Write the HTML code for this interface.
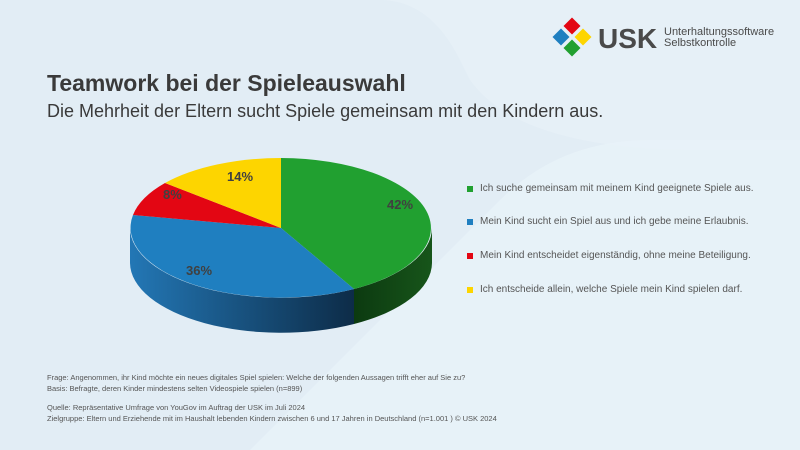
<!DOCTYPE html>
<html><head><meta charset="utf-8"><style>
html,body{margin:0;padding:0}
body{width:800px;height:450px;overflow:hidden;background:#e2edf5;font-family:"Liberation Sans",sans-serif;position:relative}
.t{position:absolute;white-space:nowrap}
</style></head><body>
<svg width="800" height="450" style="position:absolute;left:0;top:0">
<defs>
<linearGradient id="bs" x1="0" x2="1"><stop offset="0" stop-color="#2377b5"/><stop offset="1" stop-color="#0d2c48"/></linearGradient>
<linearGradient id="gs" x1="0" x2="1"><stop offset="0" stop-color="#0c3a10"/><stop offset="1" stop-color="#17551a"/></linearGradient>
</defs>
<path d="M0,0 H380 Q430,0 460,60 L470,80 Q520,150 700,150 L800,150 V0 Z" fill="#e8f1f8" opacity="0.7"/>
<path d="M250,450 L500,200 Q560,140 650,140 H800 V450 Z" fill="#e9f2f9" opacity="0.8"/>
<path d="M432,228 A151,70 0 0 1 354,289 L354,324 A151,70 0 0 0 432,263 Z" fill="url(#gs)"/>
<path d="M354,289 A151,70 0 0 1 130,228 L130,263 A151,70 0 0 0 354,324 Z" fill="url(#bs)"/>
<path d="M281,228 L281,158 A151,70 0 0 1 354,289 Z" fill="#21a030"/>
<path d="M281,228 L354,289 A151,70 0 0 1 133,215 Z" fill="#1f7fc0"/>
<path d="M281,228 L133,215 A151,70 0 0 1 165,183 Z" fill="#e30613"/>
<path d="M281,228 L165,183 A151,70 0 0 1 281,158 Z" fill="#fdd500"/>
<g font-family="Liberation Sans,sans-serif" font-weight="bold" font-size="13" fill="#404040">
<text x="387" y="209">42%</text><text x="186" y="275">36%</text><text x="163" y="199">8%</text><text x="227" y="181">14%</text>
</g>
<g transform="translate(572,37)">
<rect x="-6" y="-6" width="12" height="12" fill="#e30613" transform="translate(0,-11) rotate(45)"/>
<rect x="-6" y="-6" width="12" height="12" fill="#1f7fc0" transform="translate(-11,0) rotate(45)"/>
<rect x="-6" y="-6" width="12" height="12" fill="#fdd500" transform="translate(11,0) rotate(45)"/>
<rect x="-6" y="-6" width="12" height="12" fill="#21a030" transform="translate(0,11) rotate(45)"/>
</g>
<rect x="467" y="186" width="6" height="6" fill="#21a030"/>
<rect x="467" y="219" width="6" height="6" fill="#1f7fc0"/>
<rect x="467" y="253" width="6" height="6" fill="#e30613"/>
<rect x="467" y="287" width="6" height="6" fill="#fdd500"/>
</svg>
<div class="t" style="left:598px;top:23px;font-size:28px;font-weight:bold;color:#4a4a4a">USK</div>
<div class="t" style="left:664px;top:27px;font-size:11px;line-height:11px;color:#4a4a4a">Unterhaltungssoftware<br>Selbstkontrolle</div>
<div class="t" style="left:47px;top:70px;font-size:23px;font-weight:bold;color:#3a3a3a">Teamwork bei der Spieleauswahl</div>
<div class="t" style="left:47px;top:101px;font-size:18px;color:#3a3a3a">Die Mehrheit der Eltern sucht Spiele gemeinsam mit den Kindern aus.</div>
<div class="t" style="left:480px;top:183px;font-size:10px;color:#555">Ich suche gemeinsam mit meinem Kind geeignete Spiele aus.</div>
<div class="t" style="left:480px;top:216px;font-size:10px;color:#555">Mein Kind sucht ein Spiel aus und ich gebe meine Erlaubnis.</div>
<div class="t" style="left:480px;top:250px;font-size:10px;color:#555">Mein Kind entscheidet eigenständig, ohne meine Beteiligung.</div>
<div class="t" style="left:480px;top:284px;font-size:10px;color:#555">Ich entscheide allein, welche Spiele mein Kind spielen darf.</div>
<div class="t" style="left:47px;top:373px;font-size:7.5px;line-height:10.5px;color:#555">Frage: Angenommen, ihr Kind möchte ein neues digitales Spiel spielen: Welche der folgenden Aussagen trifft eher auf Sie zu?<br>Basis: Befragte, deren Kinder mindestens selten Videospiele spielen (n=899)</div>
<div class="t" style="left:47px;top:403px;font-size:7.5px;line-height:10.5px;color:#555">Quelle: Repräsentative Umfrage von YouGov im Auftrag der USK im Juli 2024<br>Zielgruppe: Eltern und Erziehende mit im Haushalt lebenden Kindern zwischen 6 und 17 Jahren in Deutschland (n=1.001 ) © USK 2024</div>
</body></html>
